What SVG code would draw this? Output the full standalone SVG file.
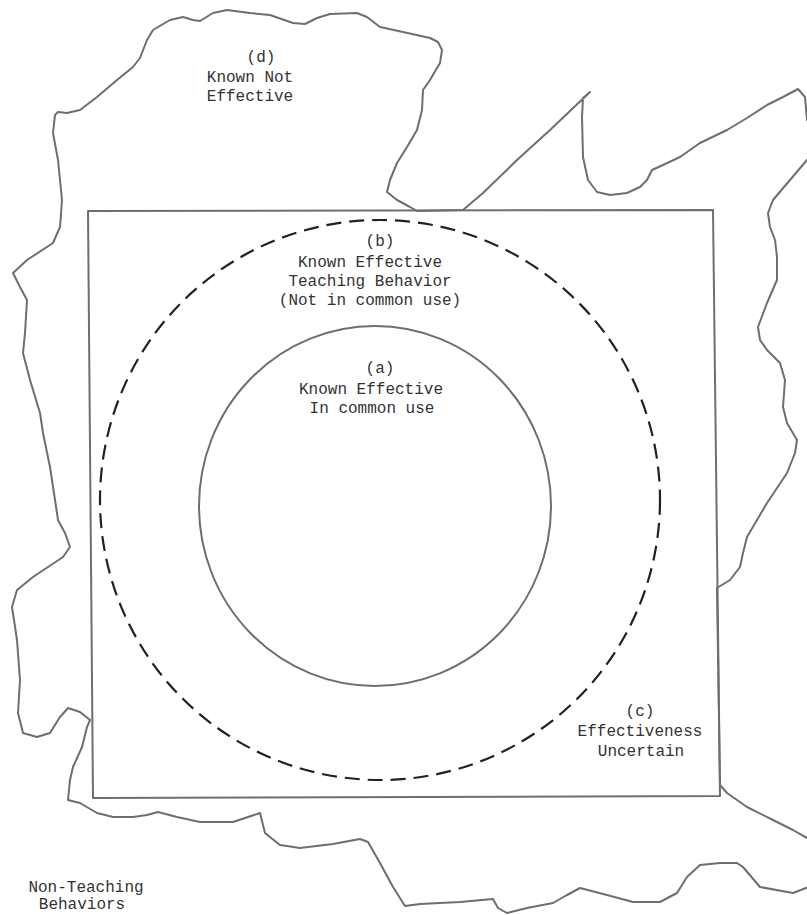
<svg xmlns="http://www.w3.org/2000/svg" width="807" height="915" viewBox="0 0 807 915">
<style>
.ln{fill:none;stroke:#6e6e6e;stroke-width:2;stroke-linejoin:round;stroke-linecap:round}
.dash{fill:none;stroke:#222;stroke-width:2.2;stroke-dasharray:15 8}
.t{font-family:"Liberation Mono","Courier New",monospace;font-size:16px;fill:#333;text-anchor:middle}
</style>
<rect width="807" height="915" fill="#fff"/>
<g id="non-teaching-outline">
<path class="ln" d="M13,273 L27,260 L53,243 L60,227 L62,200 L58,160 L53,133 L55,115 L58,112 L67,113 L80,110 L97,97 L117,80 L133,67 L140,58 L147,40 L153,30 L170,20 L183,17 L193,20 L200,21 L213,13 L227,10 L250,13 L270,15 L293,23 L305,24 L317,18 L330,14 L357,13 L367,17 L380,27 L403,32 L430,38 L438,42 L442,50 L440,63 L430,80 L423,90 L422,110 L417,130 L407,147 L397,163 L390,180 L387,192 L397,200 L410,207 L417,211 L463,210 L483,193 L517,160 L550,130 L590,92 L583,98 L582,117 L583,157 L588,180 L597,192 L610,195 L627,193 L640,187 L647,180 L652,170 L663,165 L680,157 L700,143 L727,130 L747,118 L767,105 L783,97 L798,89 L805,97 L807,120 L814,130 L814,150 L807,160 L790,180 L773,200 L768,213 L770,227 L775,240 L777,257 L777,280 L767,303 L758,327 L760,340 L767,350 L780,363 L785,380 L783,407 L787,423 L797,440 L795,453 L787,473 L767,503 L757,520 L747,537 L743,553 L740,567 L730,580 L717,588 L720,785 L727,793 L747,807 L773,820 L793,830 L814,842 L814,885 L793,893 L760,887 L743,867 L737,863 L720,863 L700,865 L687,877 L677,893 L660,902 L633,902 L607,895 L580,888 L567,895 L553,903 L527,908 L507,913 L498,908 L493,899 L460,902 L420,904 L405,906 L393,887 L380,863 L368,842 L360,839 L333,844 L300,848 L280,845 L265,833 L260,813 L233,822 L200,822 L177,817 L158,812 L147,815 L133,817 L113,817 L97,813 L80,803 L68,800 L70,780 L73,767 L82,747 L87,727 L90,720 L80,712 L68,708 L60,717 L50,733 L37,737 L23,733 L18,713 L20,680 L17,640 L12,607 L17,590 L33,577 L63,557 L70,547 L65,533 L58,520 L55,500 L50,467 L43,433 L40,413 L30,380 L23,353 L25,333 L27,300 L20,287 Z"/>
</g>
<g id="teaching-behavior-box">
<path class="ln" d="M88,211 L713,210 L720,796 L93,798 Z"/>
</g>
<g id="known-effective-not-common">
<ellipse class="dash" cx="380" cy="500" rx="280" ry="280"/>
</g>
<g id="known-effective-common">
<ellipse class="ln" cx="375" cy="506" rx="176" ry="180"/>
</g>
<g id="label-d">
<text class="t" x="261" y="62">(d)</text>
<text class="t" x="250" y="82">Known Not</text>
<text class="t" x="250" y="101">Effective</text>
</g>
<g id="label-b">
<text class="t" x="380" y="246">(b)</text>
<text class="t" x="370" y="267">Known Effective</text>
<text class="t" x="370" y="286">Teaching Behavior</text>
<text class="t" x="370" y="305">(Not in common use)</text>
</g>
<g id="label-a">
<text class="t" x="380" y="373">(a)</text>
<text class="t" x="371" y="394">Known Effective</text>
<text class="t" x="372" y="413">In common use</text>
</g>
<g id="label-c">
<text class="t" x="640" y="716">(c)</text>
<text class="t" x="640" y="736">Effectiveness</text>
<text class="t" x="641" y="756">Uncertain</text>
</g>
<g id="label-non-teaching">
<text class="t" x="86" y="892">Non-Teaching</text>
<text class="t" x="82" y="909">Behaviors</text>
</g>
</svg>
